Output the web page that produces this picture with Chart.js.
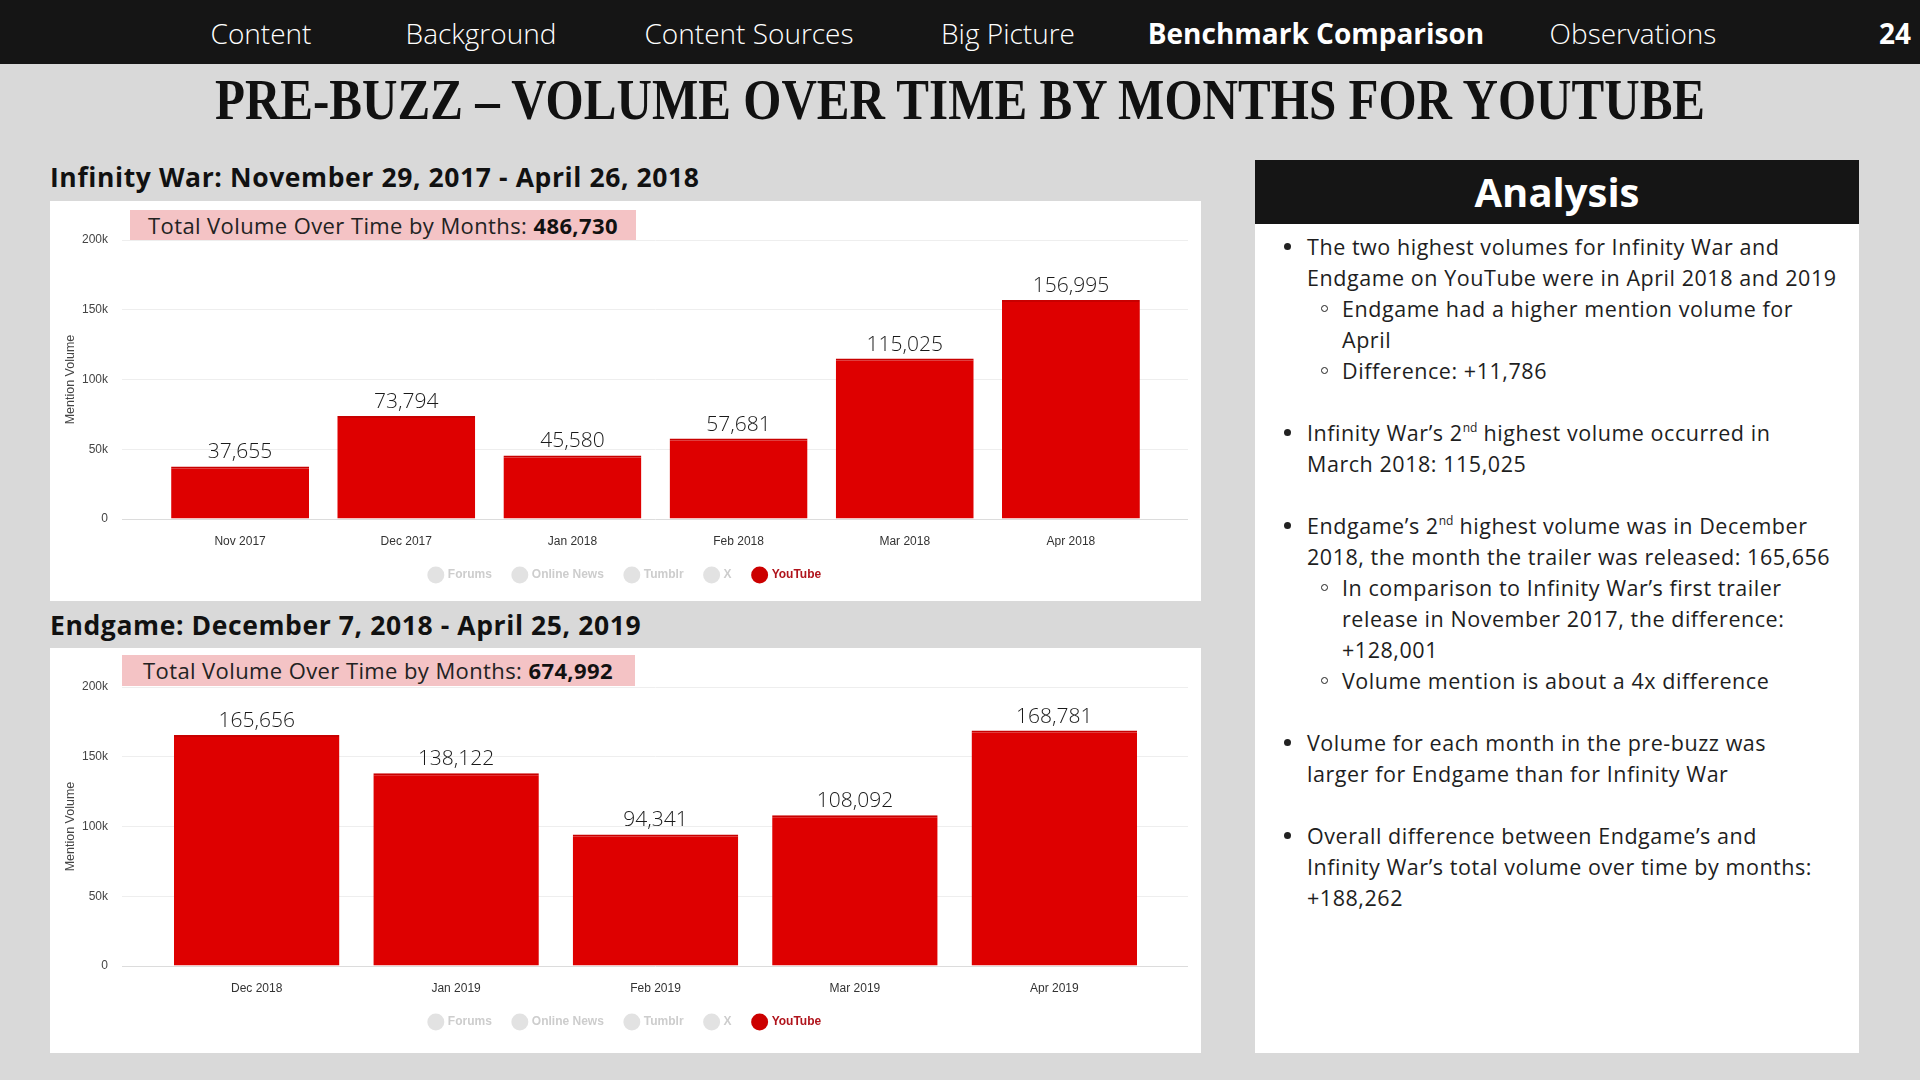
<!DOCTYPE html>
<html>
<head>
<meta charset="utf-8">
<script src="https://cdn.jsdelivr.net/npm/chart.js@4.4.0/dist/chart.umd.min.js"></script>
<style>
  body { margin: 0; width: 1920px; height: 1080px; background: #d9d9d9; position: relative; overflow: hidden; font-family: "Open Sans", sans-serif; }
  .nav { position: absolute; left: 0; top: 0; width: 1920px; height: 64px; background: #151515; color: #fff; }
  .nav span { position: absolute; top: 33px; transform: translate(-50%, -50%); font-size: 28px; font-weight: 300; white-space: nowrap; }
  .nav span.on { font-weight: 700; }
  #title { position: absolute; left: 960px; top: 72px; font-family: "Liberation Serif", serif; font-weight: 700; font-size: 57px; line-height: 56px; white-space: nowrap; color: #111; transform-origin: 0 0; }
  .head { position: absolute; left: 50px; font-weight: 700; font-size: 26.5px; letter-spacing: 0.6px; line-height: 26px; color: #111; white-space: nowrap; }
  .panel { position: absolute; left: 50px; width: 1151px; background: #fff; }
  .panel canvas { position: absolute; left: 0; top: 0; }
  .total { position: absolute; background: #f4c3c5; font-size: 22px; letter-spacing: 0.4px; color: #222; white-space: nowrap; box-sizing: border-box; }
  .total b { color: #111; }
  #analysis { position: absolute; left: 1255px; top: 160px; width: 604px; height: 893px; background: #fff; }
  #analysis .hd { height: 64px; background: #151515; color: #fff; font-weight: 700; font-size: 40px; line-height: 64px; text-align: center; }
  .list { position: absolute; left: 0; top: 71px; font-size: 21.5px; letter-spacing: 0.55px; color: #1e1e1e; line-height: 31px; white-space: nowrap; }
  .list .b, .list .s { position: relative; }
  .list .b { padding-left: 52px; }
  .list .s { padding-left: 87px; }
  .list .b::before { content: ""; position: absolute; left: 29px; top: 12px; width: 7px; height: 7px; border-radius: 50%; background: #222; }
  .list .s::before { content: ""; position: absolute; left: 66px; top: 12px; width: 5px; height: 5px; border-radius: 50%; border: 1.3px solid #222; }
  .list .gap { height: 31px; }
  .list sup { font-size: 12px; line-height: 0; vertical-align: 9px; letter-spacing: 0; }
</style>
</head>
<body>

<div class="nav">
  <span style="left:261px">Content</span>
  <span style="left:481px">Background</span>
  <span style="left:749px">Content Sources</span>
  <span style="left:1008px">Big Picture</span>
  <span class="on" style="left:1316px">Benchmark Comparison</span>
  <span style="left:1633px">Observations</span>
  <span class="on" style="left:1895px">24</span>
</div>

<div id="title">PRE-BUZZ – VOLUME OVER TIME BY MONTHS FOR YOUTUBE</div>

<div class="head" style="top:164px">Infinity War: November 29, 2017 - April 26, 2018</div>
<div class="panel" style="top:201px;height:400px">
  <canvas id="chartIW" width="1151" height="400"></canvas>
  <div class="total" style="left:80px;top:9px;width:506px;height:30px;line-height:30px;padding-left:18px">Total Volume Over Time by Months: <b>486,730</b></div>
</div>

<div class="head" style="top:612px">Endgame: December 7, 2018 - April 25, 2019</div>
<div class="panel" style="top:648px;height:405px">
  <canvas id="chartEG" width="1151" height="405"></canvas>
  <div class="total" style="left:72px;top:7px;width:513px;height:31px;line-height:31px;padding-left:21px">Total Volume Over Time by Months: <b>674,992</b></div>
</div>

<div id="analysis">
  <div class="hd">Analysis</div>
  <div class="list">
    <div class="b">The two highest volumes for Infinity War and<br>Endgame on YouTube were in April 2018 and 2019</div>
    <div class="s">Endgame had a higher mention volume for<br>April</div>
    <div class="s">Difference: +11,786</div>
    <div class="gap"></div>
    <div class="b">Infinity War’s 2<sup>nd</sup> highest volume occurred in<br>March 2018: 115,025</div>
    <div class="gap"></div>
    <div class="b">Endgame’s 2<sup>nd</sup> highest volume was in December<br>2018, the month the trailer was released: 165,656</div>
    <div class="s">In comparison to Infinity War’s first trailer<br>release in November 2017, the difference:<br>+128,001</div>
    <div class="s">Volume mention is about a 4x difference</div>
    <div class="gap"></div>
    <div class="b">Volume for each month in the pre-buzz was<br>larger for Endgame than for Infinity War</div>
    <div class="gap"></div>
    <div class="b">Overall difference between Endgame’s and<br>Infinity War’s total volume over time by months:<br>+188,262</div>
  </div>
</div>

<script>
// Infinity War pre-buzz (YouTube mentions per month)
const iwMonths = ['Nov 2017', 'Dec 2017', 'Jan 2018', 'Feb 2018', 'Mar 2018', 'Apr 2018'];
const iwVolume = [37655, 73794, 45580, 57681, 115025, 156995];

// Endgame pre-buzz
const egMonths = ['Dec 2018', 'Jan 2019', 'Feb 2019', 'Mar 2019', 'Apr 2019'];
const egVolume = [165656, 138122, 94341, 108092, 168781];

// legend entries, only YouTube has data
const sources = ['Forums', 'Online News', 'Tumblr', 'X', 'YouTube'];
const yTicks = [0, 50000, 100000, 150000, 200000];

// fit the condensed headline to its width
const title = document.getElementById('title');
title.style.transform = 'scaleX(' + (1490 / title.offsetWidth) + ') translateX(-50%)';

// numbers above the bars
const valueLabels = {
    id: 'valueLabels',
    afterDatasetsDraw(chart) {
        const ctx = chart.ctx;
        const last = chart.data.datasets.length - 1;
        const meta = chart.getDatasetMeta(last);
        ctx.save();
        ctx.font = '300 21px "Open Sans"';
        ctx.fillStyle = '#1a1a1a';
        ctx.textAlign = 'center';
        ctx.textBaseline = 'alphabetic';
        meta.data.forEach((bar, i) => {
            const v = chart.data.datasets[last].data[i];
            ctx.fillText(v.toLocaleString('en-US'), bar.x, bar.y - 8);
        });
        ctx.restore();
    }
};

const gridColor = ctx => ctx.tick && ctx.tick.value === 0 ? '#dcdcdc' : '#eeeeee';

function makeChart(id, months, volume, padBottom) {
    const datasets = sources.map(name => {
        const isYT = name === 'YouTube';
        return {
            label: name,
            data: isYT ? volume : [],
            backgroundColor: isYT ? '#de0000' : '#e2e2e2',
            borderColor: isYT ? '#c80000' : '#e2e2e2',
            borderWidth: isYT ? { top: 2, left: 0, right: 0, bottom: 0 } : 0,
            borderSkipped: 'bottom',
            grouped: false,
            categoryPercentage: 1,
            barPercentage: 0.83
        };
    });

    return new Chart(document.getElementById(id), {
        type: 'bar',
        data: { labels: months, datasets: datasets },
        plugins: [valueLabels],
        options: {
            responsive: false,
            animation: false,
            layout: { padding: { top: 39, left: 13, right: 13, bottom: padBottom } },
            plugins: {
                tooltip: { enabled: false },
                legend: {
                    position: 'bottom',
                    onClick: null,
                    labels: {
                        usePointStyle: true,
                        pointStyle: 'circle',
                        boxWidth: 12,
                        boxHeight: 12,
                        padding: 22,
                        font: { family: 'Liberation Sans', size: 12, weight: 'bold' },
                        generateLabels: chart => chart.data.datasets.map((ds, i) => ({
                            text: ds.label,
                            fillStyle: ds.label === 'YouTube' ? '#cc0000' : '#e2e2e2',
                            strokeStyle: ds.label === 'YouTube' ? '#cc0000' : '#e2e2e2',
                            lineWidth: 0,
                            pointStyle: 'circle',
                            fontColor: ds.label === 'YouTube' ? '#b0141c' : '#cdcdcd',
                            hidden: false,
                            datasetIndex: i
                        }))
                    }
                }
            },
            scales: {
                x: {
                    offset: true,
                    grid: { display: false, drawTicks: false },
                    border: { display: false },
                    afterFit: axis => { axis.height = 28; },
                    ticks: { color: '#333', padding: 15, font: { family: 'Liberation Sans', size: 12 } }
                },
                y: {
                    min: 0,
                    max: 200000,
                    afterBuildTicks: axis => { axis.ticks = yTicks.map(v => ({ value: v })); },
                    afterFit: axis => { axis.width = 94; },
                    ticks: {
                        color: '#444',
                        padding: 14,
                        font: { family: 'Liberation Sans', size: 12 },
                        callback: v => v === 0 ? '0' : (v / 1000) + 'k'
                    },
                    grid: { color: gridColor, drawTicks: true, tickLength: 35 },
                    border: { display: false },
                    title: {
                        display: true,
                        text: 'Mention Volume',
                        color: '#444',
                        padding: 0,
                        font: { family: 'Liberation Sans', size: 12.5 }
                    }
                },
                // only used to stretch the grid lines past the last bar
                yRight: {
                    position: 'right',
                    min: 0,
                    max: 200000,
                    afterBuildTicks: axis => { axis.ticks = yTicks.map(v => ({ value: v })); },
                    afterFit: axis => { axis.width = 34; },
                    ticks: { display: false },
                    grid: { color: gridColor, drawOnChartArea: false, drawTicks: true, tickLength: 34 },
                    border: { display: false }
                }
            }
        }
    });
}

const iwChart = makeChart('chartIW', iwMonths, iwVolume, 10);
const egChart = makeChart('chartEG', egMonths, egVolume, 15);
</script>
</body>
</html>
